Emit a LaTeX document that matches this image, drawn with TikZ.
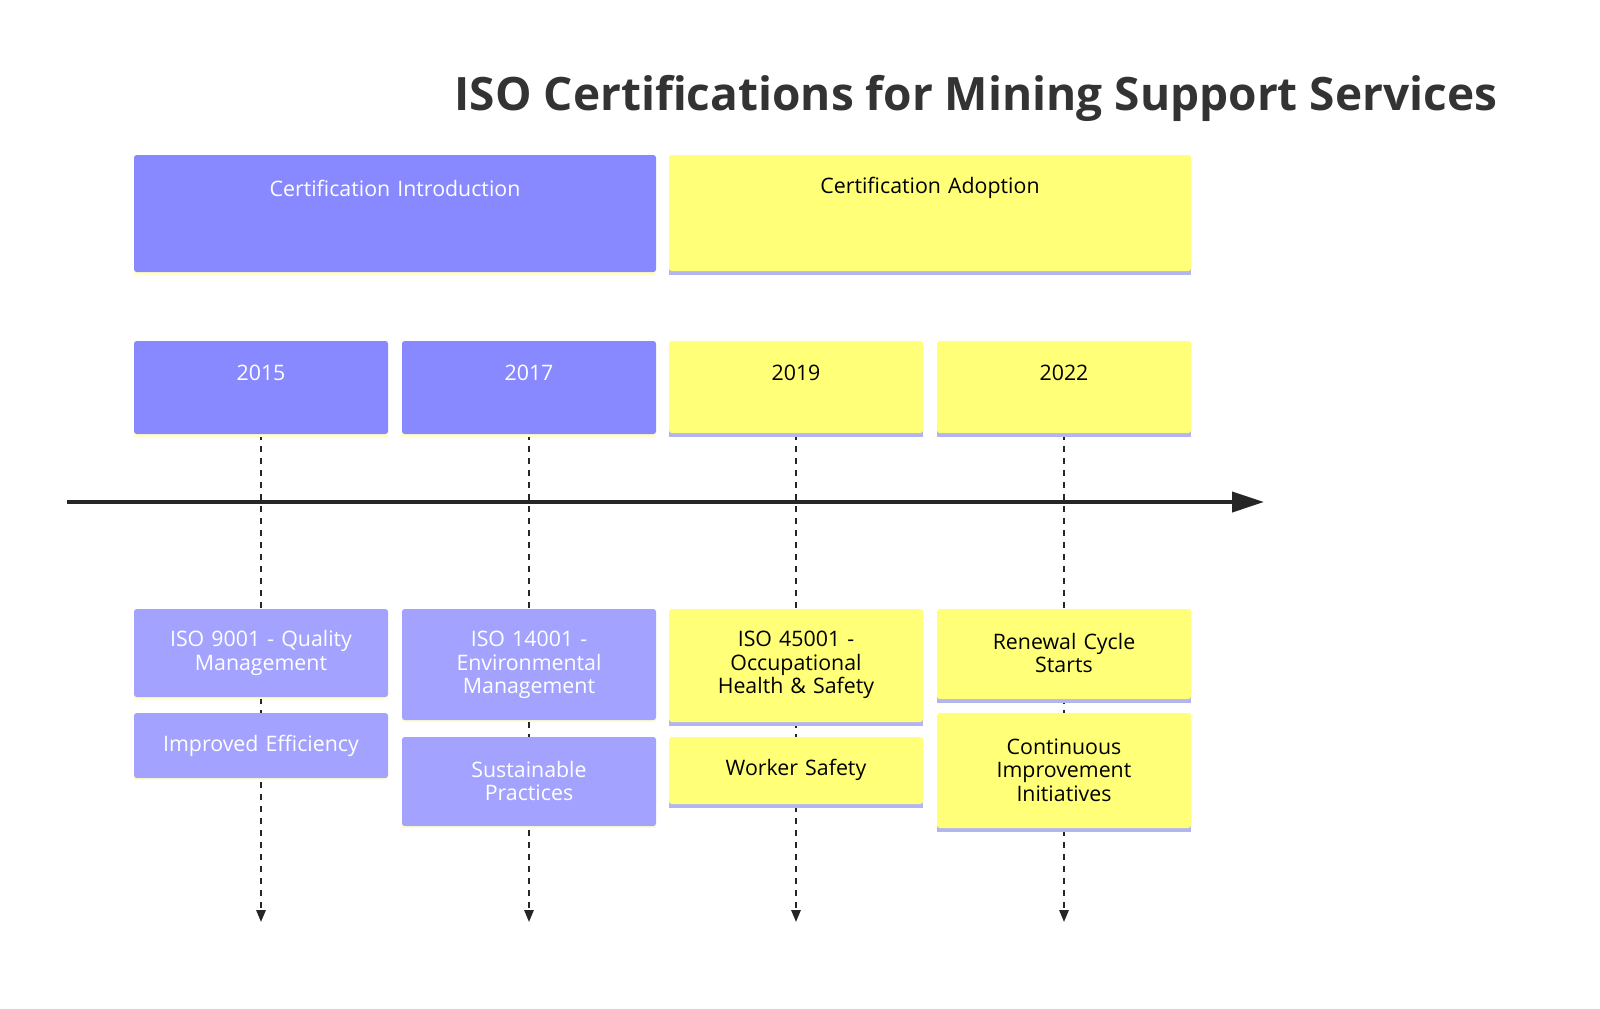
\documentclass[tikz,border=0pt]{standalone}
\usepackage{fontspec}
\setmainfont{Open Sans}
\usetikzlibrary{arrows.meta}
\definecolor{pur}{HTML}{8888FF}
\definecolor{lpur}{HTML}{A3A3FF}
\definecolor{yel}{HTML}{FFFF78}
\definecolor{ystripe}{HTML}{FFFFC8}
\definecolor{pstripe}{HTML}{B4B4F0}
\tikzset{
 pbox/.style={fill=pur,rounded corners=2pt},
 lbox/.style={fill=lpur,rounded corners=2pt},
 ybox/.style={fill=yel,rounded corners=2pt},
 wtxt/.style={text=white,font=\fontsize{16}{17.6}\selectfont,align=center,text width=170pt},
 btxt/.style={text=black,font=\fontsize{16}{17.6}\selectfont,align=center,text width=170pt},
 dashline/.style={dashed,dash pattern=on 4.5pt off 4.5pt,line width=1.5pt,draw=black!85,-{Triangle[length=9pt,width=7pt]}},
}
\begin{document}
\begin{tikzpicture}[x=0.75pt,y=-0.75pt]
\useasboundingbox (0,0) rectangle (1600,1008);
\node[font=\fontsize{34.5}{38}\selectfont\bfseries,text=black!80,anchor=east] (title) at (1502,98) {ISO Certifications for Mining Support Services};
% dashed lines
\foreach \x/\n in {261/a,529/b,796/c,1064/d}{
 \coordinate (t\n) at (\x,434); \coordinate (e\n) at (\x,922);
 \draw[dashline] (t\n) -- (e\n);
}
% axis
\coordinate (ax1) at (67,502); \coordinate (ax2) at (1264,502);
\draw[line width=3pt,black!85,-{Triangle[length=24pt,width=15pt]}] (ax1) -- (ax2);
% sections
\fill[ystripe] (134,268) rectangle (656,275);
\fill[pbox] (134,155) rectangle (656,272);
\node[wtxt,text width=300pt] (s1) at (395,188) {Certification Introduction};
\fill[pstripe] (669,268) rectangle (1191,275);
\fill[ybox] (669,155) rectangle (1191,271);
\node[btxt,text width=300pt] (s2) at (930,188) {Certification Adoption};
% years
\foreach \x/\y in {134/2015,402/2017}{
 \fill[ystripe] (\x,430) rectangle (\x+254,437);
 \fill[pbox] (\x,341) rectangle (\x+254,434);
 \node[wtxt] (y\y) at (\x+127,373) {\y};
}
\foreach \x/\y in {669/2019,937/2022}{
 \fill[pstripe] (\x,430) rectangle (\x+254,437);
 \fill[ybox] (\x,341) rectangle (\x+254,433);
 \node[btxt] (y\y) at (\x+127,373) {\y};
}
% events
\newcommand{\pev}[6]{\fill[ystripe] (#1,#3-3) rectangle (#1+254,#3+2); \fill[lbox] (#1,#2) rectangle (#1+254,#3); \node[wtxt] (#5) at (#1+127,#4) {#6};}
\newcommand{\yev}[6]{\fill[pstripe] (#1,#3-3) rectangle (#1+254,#3+3); \fill[ybox] (#1,#2) rectangle (#1+254,#3-1); \node[btxt] (#5) at (#1+127,#4) {#6};}
\pev{134}{609}{697}{653}{e1}{ISO 9001 - Quality\\Management}
\pev{134}{713}{778}{746}{e2}{Improved Efficiency}
\pev{402}{609}{720}{665}{e3}{ISO 14001 -\\Environmental\\Management}
\pev{402}{737}{826}{781}{e4}{Sustainable\\Practices}
\yev{669}{609}{723}{665}{e5}{ISO 45001 -\\Occupational\\Health \& Safety}
\yev{669}{737}{805}{770}{e6}{Worker Safety}
\yev{937}{609}{700}{653}{e7}{Renewal Cycle\\Starts}
\yev{937}{713}{829}{770}{e8}{Continuous\\Improvement\\Initiatives}
\end{tikzpicture}
\end{document}
